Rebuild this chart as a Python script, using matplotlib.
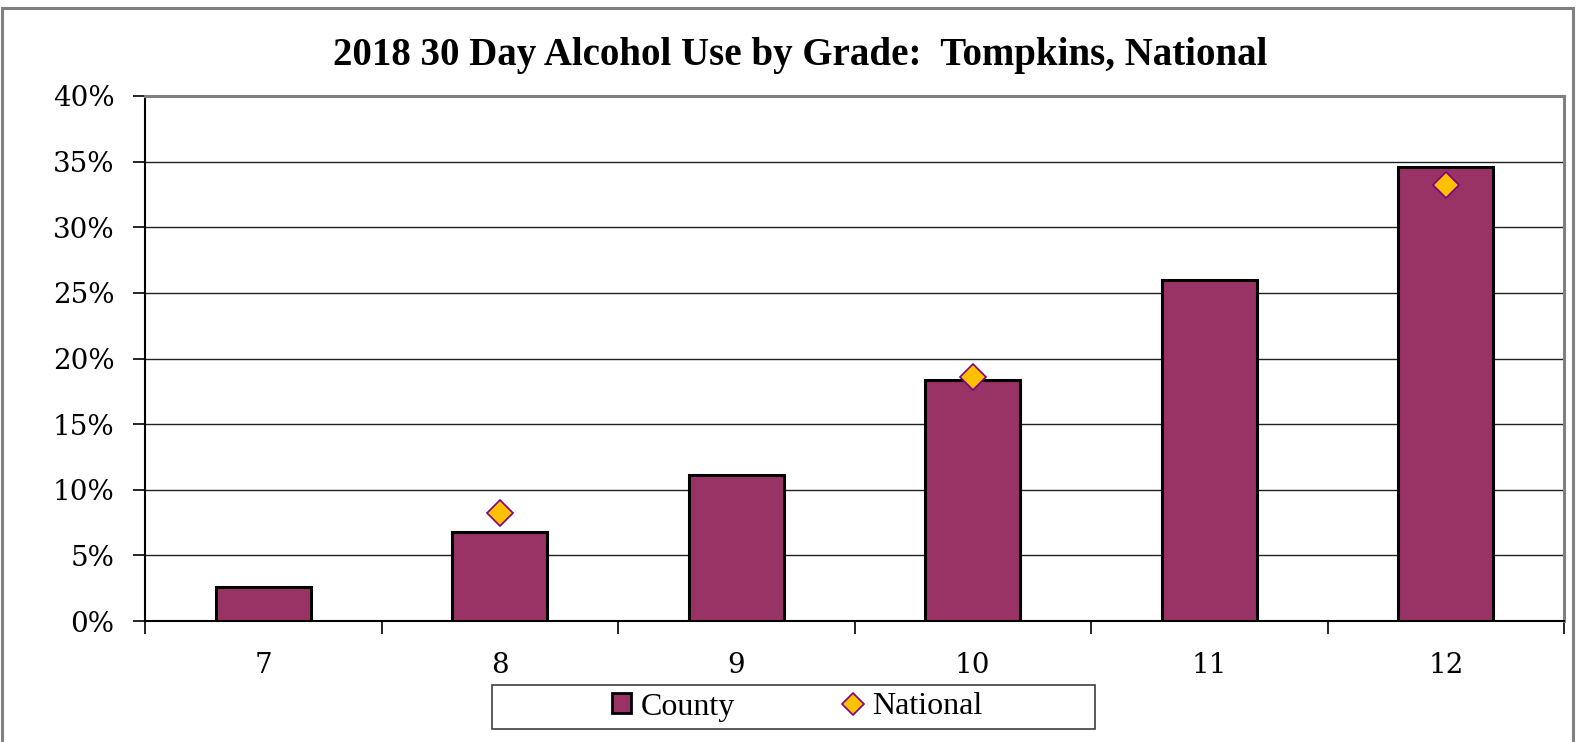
import matplotlib.pyplot as plt
from matplotlib.patches import Rectangle
from matplotlib.lines import Line2D
from matplotlib.patches import Patch

# data
grades = ['7', '8', '9', '10', '11', '12']
county = [0.026, 0.068, 0.111, 0.184, 0.260, 0.346]
national_idx = [1, 3, 5]
national = [0.082, 0.186, 0.332]
yticks = [0, 0.05, 0.10, 0.15, 0.20, 0.25, 0.30, 0.35, 0.40]

plt.rcParams['font.family'] = ['DejaVu Serif']

W, H = 1578, 742
fig = plt.figure(figsize=(W / 100, H / 100), dpi=100)
ax = fig.add_axes([145 / W, 1 - 621 / H, (1564 - 145) / W, (621 - 96) / H])

x = list(range(len(grades)))
ax.bar(x, county, width=0.40, color='#993366', edgecolor='black', linewidth=2.2, zorder=3)
ax.plot(national_idx, national, linestyle='none', marker='D', markersize=13,
        markerfacecolor='#FFC000', markeredgecolor='#800080', markeredgewidth=1.2, zorder=4)

ax.set_xlim(-0.5, len(grades) - 0.5)
ax.set_ylim(0, 0.40)
ax.set_yticks(yticks)
ax.set_yticklabels(['{:d}%'.format(round(v * 100)) for v in yticks])
ax.set_xticks(x)
ax.set_xticklabels(grades)
ax.set_xticks([i - 0.5 for i in range(len(grades) + 1)], minor=True)

ax.tick_params(axis='y', which='major', length=9, width=1.2, pad=13, labelsize=20,
               labelfontfamily='DejaVu Serif')
ax.tick_params(axis='x', which='major', length=0, pad=22, labelsize=20,
               labelfontfamily='DejaVu Serif')
ax.tick_params(axis='x', which='minor', length=9, width=1.2)

ax.grid(axis='y', color='#222222', linewidth=1.0, zorder=0)
for s in ['left', 'bottom']:
    ax.spines[s].set_color('black')
    ax.spines[s].set_linewidth(1.5)
for s in ['top', 'right']:
    ax.spines[s].set_color('#808080')
    ax.spines[s].set_linewidth(2.2)

fig.text(800 / W, 1 - 56 / H, '2018 30 Day Alcohol Use by Grade:  Tompkins, National',
         ha='center', va='center', fontsize=28, fontweight='bold', family='Liberation Serif')

# legend: frameless entries plus a separate box like the original
handles = [Patch(facecolor='#993366', edgecolor='black', linewidth=2),
           Line2D([], [], linestyle='none', marker='D', markersize=11,
                  markerfacecolor='#FFC000', markeredgecolor='#800080', markeredgewidth=1.2)]
leg = fig.legend(handles, ['County', 'National'], ncol=2,
                 prop={'family': 'Liberation Serif', 'size': 23},
                 loc='center', bbox_to_anchor=(797 / W, 1 - 707 / H),
                 frameon=False, handlelength=0.6, handleheight=0.6, handletextpad=0.3,
                 columnspacing=3.4, borderpad=0, borderaxespad=0)
fig.patches.append(Rectangle((492 / W, 1 - 729 / H), (1095 - 492) / W, 44 / H,
                             transform=fig.transFigure, fill=False,
                             edgecolor='#404040', linewidth=1.2))

# outer chart frame
fig.patches.append(Rectangle((2 / W, -0.05), 1571 / W, 1.05 - 8 / H,
                             transform=fig.transFigure, fill=False,
                             edgecolor='#808080', linewidth=2.2))

fig.savefig('out.png', dpi=100)
